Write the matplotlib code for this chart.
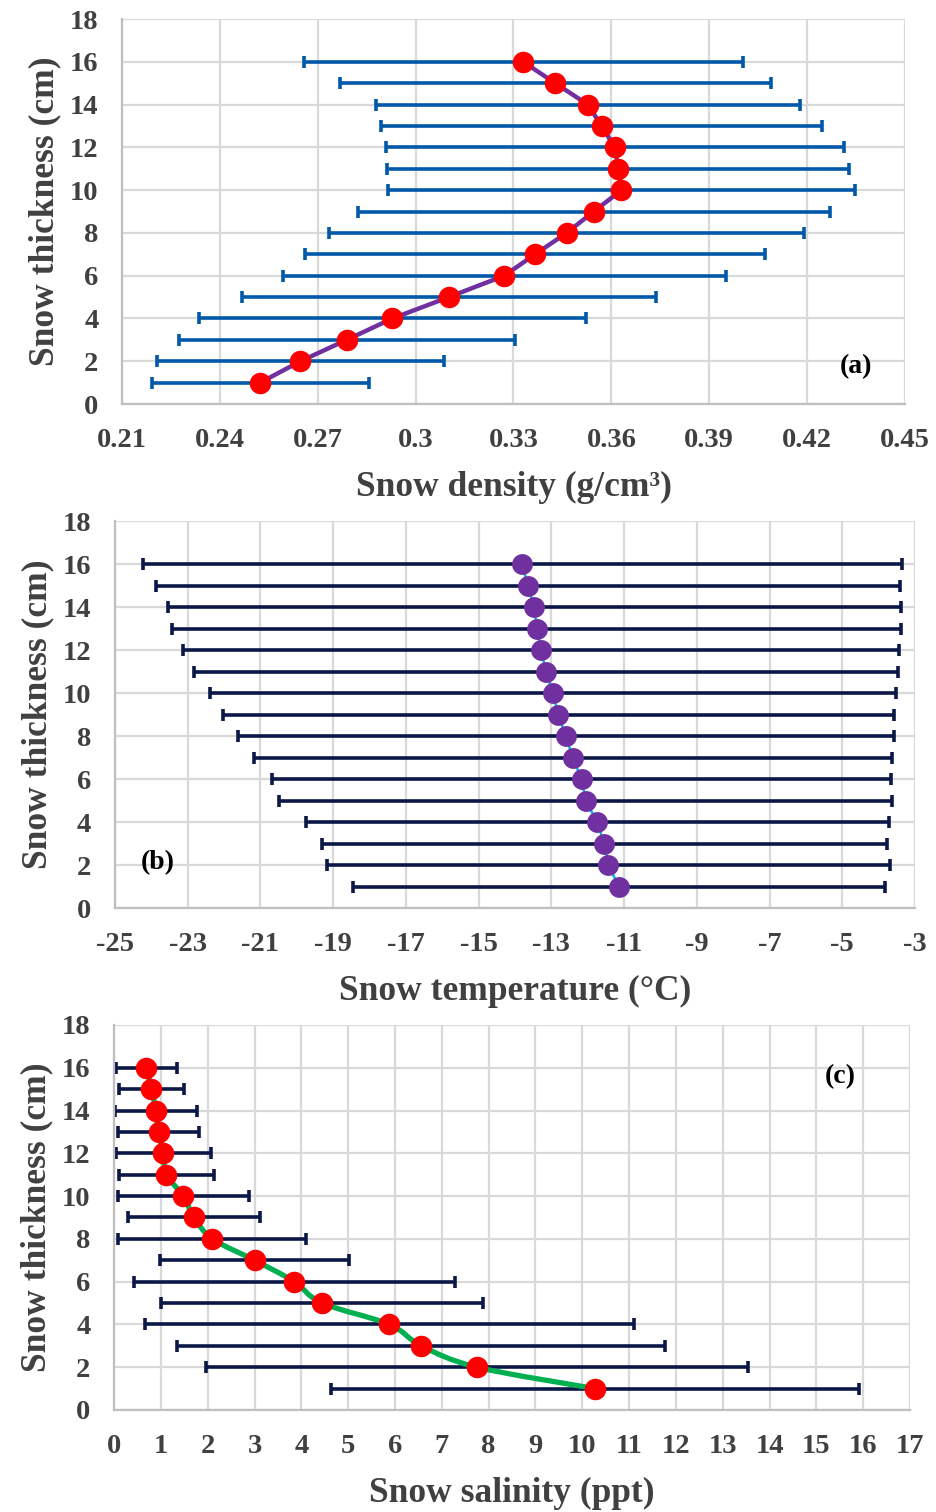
import numpy as np
import matplotlib
matplotlib.use('Agg')
import matplotlib.pyplot as plt
from matplotlib.path import Path
from matplotlib.patches import PathPatch

# snow thickness levels (cm), top to bottom
thickness = [16, 15, 14, 13, 12, 11, 10, 9, 8, 7, 6, 5, 4, 3, 2, 1]

# (a) snow density (g/cm3)
density_mean = [0.3330, 0.3428, 0.3528, 0.3570, 0.3611, 0.3621, 0.3631, 0.3546,
                0.3463, 0.3366, 0.3272, 0.3102, 0.2929, 0.2789, 0.2647, 0.2524]
density_sd = [0.0673, 0.0660, 0.0649, 0.0675, 0.0703, 0.0709, 0.0715, 0.0723,
              0.0729, 0.0705, 0.0679, 0.0635, 0.0592, 0.0515, 0.0439, 0.0332]

# (b) snow temperature (deg C)
temp_mean = [-13.80, -13.65, -13.47, -13.40, -13.28, -13.15, -12.96, -12.81,
             -12.60, -12.41, -12.17, -12.05, -11.74, -11.54, -11.43, -11.14]
temp_sd = [10.43, 10.23, 10.08, 10.02, 9.85, 9.67, 9.43, 9.23,
           9.01, 8.77, 8.52, 8.43, 8.02, 7.78, 7.74, 7.32]

# (c) snow salinity (ppt)
salinity_mean = [0.69, 0.80, 0.89, 0.95, 1.05, 1.12, 1.48, 1.71,
                 2.10, 3.00, 3.85, 4.44, 5.88, 6.56, 7.75, 10.27]
salinity_sd = [0.655, 0.685, 0.875, 0.875, 1.015, 1.02, 1.395, 1.415,
               2.005, 2.01, 3.425, 3.445, 5.215, 5.205, 5.795, 5.64]

density_ticks = [0.21, 0.24, 0.27, 0.30, 0.33, 0.36, 0.39, 0.42, 0.45]
density_ticklabels = ['0.21', '0.24', '0.27', '0.3', '0.33', '0.36', '0.39', '0.42', '0.45']
temp_ticks = list(range(-25, -2, 2))
salinity_ticks = list(range(0, 18))
thickness_ticks = list(range(0, 19, 2))

plt.rcParams['font.family'] = ['Liberation Serif', 'DejaVu Serif']
plt.rcParams['font.weight'] = 'bold'

TXT = '#404040'
GRID = '#D9D9D9'


def style_axes(ax, xlim, xticks, xticklabels, xlabel):
    ax.set_xlim(xlim)
    ax.set_ylim(0, 18)
    ax.set_xticks(xticks)
    ax.set_xticklabels(xticklabels)
    ax.set_yticks(thickness_ticks)
    ax.grid(True, color=GRID, linewidth=1.6, zorder=0)
    ax.set_axisbelow(True)
    for side in ['top', 'right']:
        ax.spines[side].set_visible(False)
    for side in ['left', 'bottom']:
        ax.spines[side].set_color('#BFBFBF')
        ax.spines[side].set_linewidth(1.6)
    ax.tick_params(axis='both', length=0, labelsize=20.5, labelcolor=TXT)
    ax.tick_params(axis='x', pad=17)
    ax.tick_params(axis='y', pad=17)
    ax.set_xlabel(xlabel, fontsize=25.5, color=TXT, fontweight='bold', labelpad=13)
    ax.set_ylabel('Snow thickness (cm)', fontsize=25.5, color=TXT, fontweight='bold', labelpad=6)


def smooth_path(xs, ys):
    # bezier segments through the points, like a smoothed spreadsheet line
    pts = np.column_stack([xs, ys])
    n = len(pts)
    verts = [pts[0]]
    codes = [Path.MOVETO]
    for i in range(n - 1):
        p0 = pts[i - 1] if i > 0 else pts[i]
        p1 = pts[i]
        p2 = pts[i + 1]
        p3 = pts[i + 2] if i + 2 < n else pts[i + 1]
        c1 = p1 + (p2 - p0) / 6.0
        c2 = p2 - (p3 - p1) / 6.0
        verts += [c1, c2, p2]
        codes += [Path.CURVE4] * 3
    return Path(verts, codes)


fig = plt.figure(figsize=(9.37, 15.12), dpi=100, facecolor='white')

# ---- (a) density
ax1 = fig.add_axes([0.1302, 0.7328, 0.8356, 0.2546])
ax1.errorbar(density_mean, thickness, xerr=density_sd, fmt='none',
             ecolor='#0058A8', elinewidth=2.6, capsize=4, capthick=2.6, zorder=2)
ax1.plot(density_mean, thickness, color='#7030A0', linewidth=3.2, zorder=3)
ax1.plot(density_mean, thickness, 'o', color='#FF0000', markersize=15.5,
         markeredgewidth=0, zorder=4)
style_axes(ax1, (0.21, 0.45), density_ticks, density_ticklabels, 'Snow density (g/cm³)')
ax1.text(0.937, 0.098, '(a)', transform=ax1.transAxes, fontsize=20,
         fontweight='bold', color='black', ha='center', va='center')

# ---- (b) temperature
ax2 = fig.add_axes([0.1227, 0.3993, 0.8538, 0.2560])
ax2.errorbar(temp_mean, thickness, xerr=temp_sd, fmt='none',
             ecolor='#0B1747', elinewidth=2.6, capsize=4, capthick=2.6, zorder=2)
ax2.plot(temp_mean, thickness, color='#00B0F0', linewidth=1.8, zorder=3)
ax2.plot(temp_mean, thickness, 'o', color='#7030A0', markersize=15,
         markeredgewidth=0, zorder=4)
style_axes(ax2, (-25, -3), temp_ticks, [str(t) for t in temp_ticks], 'Snow temperature (°C)')
ax2.text(0.054, 0.118, '(b)', transform=ax2.transAxes, fontsize=20,
         fontweight='bold', color='black', ha='center', va='center')

# ---- (c) salinity
ax3 = fig.add_axes([0.1217, 0.0675, 0.8495, 0.2546])
ax3.errorbar(salinity_mean, thickness, xerr=salinity_sd, fmt='none',
             ecolor='#0B1747', elinewidth=2.6, capsize=4, capthick=2.6, zorder=2)
ax3.add_patch(PathPatch(smooth_path(salinity_mean, thickness), facecolor='none',
                        edgecolor='#00B050', linewidth=3.8, zorder=3))
ax3.plot(salinity_mean, thickness, 'o', color='#FF0000', markersize=15.5,
         markeredgewidth=0, zorder=4)
style_axes(ax3, (0, 17), salinity_ticks, [str(t) for t in salinity_ticks], 'Snow salinity (ppt)')
ax3.text(0.912, 0.865, '(c)', transform=ax3.transAxes, fontsize=20,
         fontweight='bold', color='black', ha='center', va='center')

fig.savefig('out.png', dpi=100, facecolor='white')
